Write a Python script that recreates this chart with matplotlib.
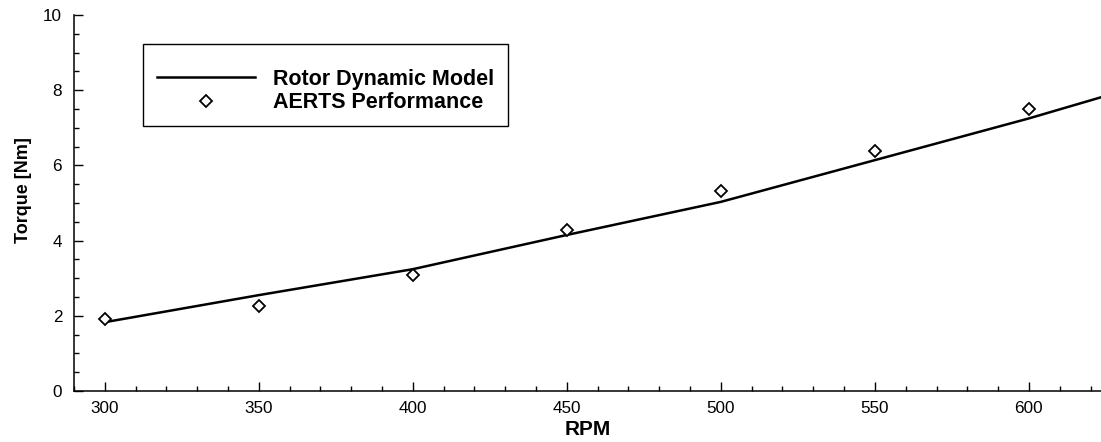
import numpy as np
import matplotlib
matplotlib.use('Agg')
import matplotlib.pyplot as plt
from matplotlib.ticker import MultipleLocator
from matplotlib.patches import Rectangle

plt.rcParams['font.family'] = ['Liberation Sans', 'DejaVu Sans']

# model curve
model_rpm = [300, 350, 400, 450, 500, 550, 600, 625]
model_torque = [1.83, 2.55, 3.24, 4.15, 5.03, 6.14, 7.25, 7.85]

# measured points
test_rpm = [300, 350, 400, 450, 500, 550, 600]
test_torque = [1.91, 2.27, 3.09, 4.28, 5.33, 6.37, 7.49]

W, H = 1101, 442
fig = plt.figure(figsize=(W / 100, H / 100), dpi=100)
ax = fig.add_axes([74/W, 51/H, 1027/W, 376/H])

ax.plot(model_rpm, model_torque, color='black', lw=1.8, label='Rotor Dynamic Model')
ax.plot(test_rpm, test_torque, ls='none', marker='D', ms=5.8, mfc='white',
        mec='black', mew=1.3, label='AERTS Performance')

ax.set_xlim(290, 623.4)
ax.set_ylim(0, 10)
ax.xaxis.set_major_locator(MultipleLocator(50))
ax.xaxis.set_minor_locator(MultipleLocator(10))
ax.yaxis.set_major_locator(MultipleLocator(2))
ax.yaxis.set_minor_locator(MultipleLocator(0.5))

for s in ['top', 'right']:
    ax.spines[s].set_visible(False)
for s in ['left', 'bottom']:
    ax.spines[s].set_linewidth(1.1)

ax.tick_params(which='major', direction='in', length=6.5, width=1.0, labelsize=12.3)
ax.tick_params(which='minor', direction='in', length=3.6, width=1.0)
ax.tick_params(axis='x', which='major', pad=7)
ax.tick_params(axis='y', which='major', pad=8.5)

ax.set_xlabel('RPM', fontsize=15, fontweight='bold', labelpad=3)
ax.set_ylabel('Torque [Nm]', fontsize=13, fontweight='bold', labelpad=8)
ax.yaxis.label.set_y(0.535)

# legend without frame, box drawn separately
leg = ax.legend(loc='upper left', bbox_to_anchor=(157/W, 1 - 69/H),
                bbox_transform=fig.transFigure, frameon=False, numpoints=1,
                prop={'weight': 'bold', 'size': 15.5}, handlelength=4.55,
                handletextpad=0.84, borderpad=0, labelspacing=0.1,
                borderaxespad=0)
fig.patches.append(Rectangle((143/W, 1 - 126/H), 365/W, 82/H,
                             transform=fig.transFigure, fill=False,
                             edgecolor='black', lw=1.0))

fig.savefig('out.png', dpi=100)
